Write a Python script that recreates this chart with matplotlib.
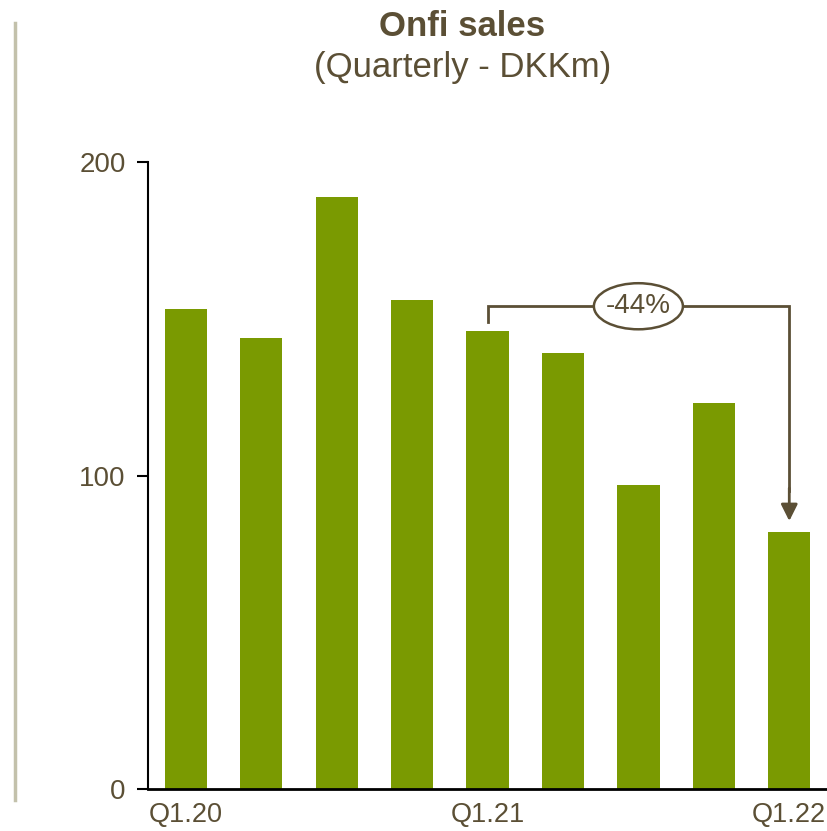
import matplotlib.pyplot as plt
from matplotlib.patches import Ellipse

plt.rcParams['font.family'] = ['Liberation Sans', 'DejaVu Sans']

# Quarterly Onfi sales, DKKm
quarters = ['Q1.20', 'Q2.20', 'Q3.20', 'Q4.20', 'Q1.21', 'Q2.21', 'Q3.21', 'Q4.21', 'Q1.22']
sales = [153, 144, 189, 156, 146, 139, 97, 123, 82]
shown_labels = ['Q1.20', '', '', '', 'Q1.21', '', '', '', 'Q1.22']
y_ticks = [0, 100, 200]
change_label = '-44%'

bar_color = '#7A9A01'
text_color = '#5B4F35'

fig = plt.figure(figsize=(8.27, 8.31), dpi=100)
ax = fig.add_axes([0.179, 0.0505, 0.821, 0.7545])

x = list(range(len(quarters)))
ax.bar(x, sales, width=0.56, color=bar_color)

ax.set_xlim(-0.5, 8.5)
ax.set_ylim(0, 200)
ax.set_yticks(y_ticks)
ax.set_xticks(x)
ax.set_xticklabels(shown_labels)
ax.tick_params(axis='x', length=0, pad=9, labelsize=19.5, labelcolor=text_color)
ax.tick_params(axis='y', length=8, width=1.5, direction='out', pad=8,
               labelsize=20, labelcolor=text_color)
for s in ['top', 'right']:
    ax.spines[s].set_visible(False)
ax.spines['left'].set_linewidth(1.5)
ax.spines['bottom'].set_linewidth(2)

# bracket from Q1.21 to Q1.22 with arrow
i0, i1 = 4, 8
y_top = 154
ax.plot([i0, i0, i1, i1], [sales[i0] + 3, y_top, y_top, 95],
        color=text_color, lw=2, solid_joinstyle='miter')
ax.annotate('', xy=(i1, sales[i1] + 3.5), xytext=(i1, 96),
            arrowprops=dict(arrowstyle='-|>,head_length=1.0,head_width=0.5',
                            color=text_color, lw=2, shrinkA=0, shrinkB=0))
mid = (i0 + i1) / 2
ax.add_patch(Ellipse((mid, y_top), 1.18, 14.7, facecolor='white',
                     edgecolor=text_color, lw=1.8, zorder=3))
ax.text(mid, y_top, change_label, ha='center', va='center', fontsize=20,
        color=text_color, zorder=4)

# titles
fig.text(0.559, 0.968, 'Onfi sales', ha='center', va='center', fontsize=25,
         fontweight='bold', color=text_color)
fig.text(0.559, 0.919, '(Quarterly - DKKm)', ha='center', va='center',
         fontsize=25, color=text_color)

# left decorative line
fig.add_artist(plt.Line2D([0.018, 0.018], [0.037, 0.972], color='#C3C1AB', lw=2.5))

fig.savefig('out.png', dpi=100)
